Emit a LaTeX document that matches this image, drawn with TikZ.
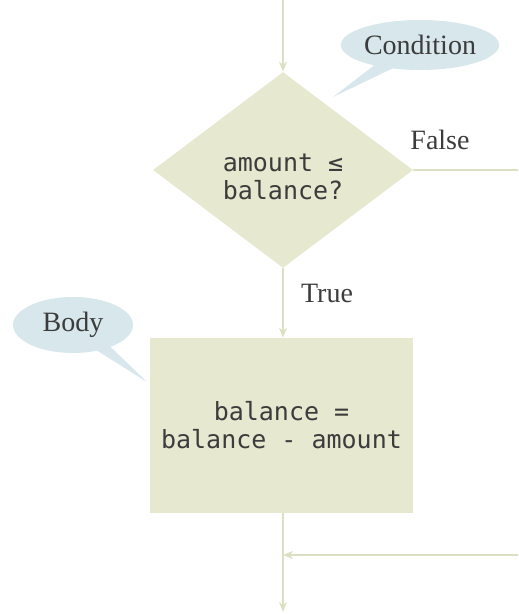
\documentclass[tikz,border=0pt]{standalone}
\usepackage{fontspec}
\setmainfont{Liberation Serif}
\setmonofont{DejaVu Sans Mono}
\usetikzlibrary{shapes.geometric,shapes.callouts,arrows.meta}

\definecolor{flowfill}{HTML}{E6E8CF}
\definecolor{flowline}{HTML}{DCE0C2}
\definecolor{bubble}{HTML}{D7E7EC}
\definecolor{ink}{HTML}{3C3C3C}

\tikzset{
  flow/.style={draw=flowline, line width=1pt, -{Stealth[length=5pt,width=4pt]}},
  plain/.style={draw=flowline, line width=1pt},
  code/.style={fill=flowfill, text=ink, align=center, inner sep=0pt,
               font=\ttfamily\fontsize{12.5}{14}\selectfont},
  note/.style={ellipse callout, fill=bubble, text=ink, inner sep=0pt,
               font=\fontsize{14}{16}\selectfont},
  tag/.style={text=ink, font=\fontsize{14}{16}\selectfont}
}

\begin{document}
\begin{tikzpicture}[x=0.5pt,y=-0.5pt]
  \useasboundingbox (0,0) rectangle (518,614);

  \node[code, diamond, aspect=1.33, minimum width=130pt, minimum height=98pt]
    (test) at (283,170) {};
  \node[code, fill=none] (testtext) at (283,177) {amount ≤\\balance?};
  \node[code, rectangle, minimum width=131.5pt, minimum height=87.5pt]
    (body) at (281.5,425.5) {balance =\\balance - amount};

  \coordinate (start) at (283,0);
  \coordinate (stop) at (283,612);
  \coordinate (falseend) at (518,170);
  \coordinate (back) at (518,555);
  \coordinate (join) at (283,555);

  \draw[flow] (start) -- (test.north);
  \draw[flow] (test.south) -- (test.south |- body.north);
  \draw[plain] (test.east) -- (falseend);
  \draw[flow] (stop |- body.south) -- (stop);
  \draw[flow] (back) -- (join);

  \node[tag] (false) at (440,140) {False};
  \node[tag] (true) at (327,293) {True};

  \node[note, minimum width=77pt, minimum height=25pt,
        callout absolute pointer={(333,97)}] (cond) at (420,45) {Condition};
  \node[note, minimum width=60pt, minimum height=28pt,
        callout absolute pointer={(147,382)}] (bodynote) at (73,325) {Body};
\end{tikzpicture}
\end{document}
